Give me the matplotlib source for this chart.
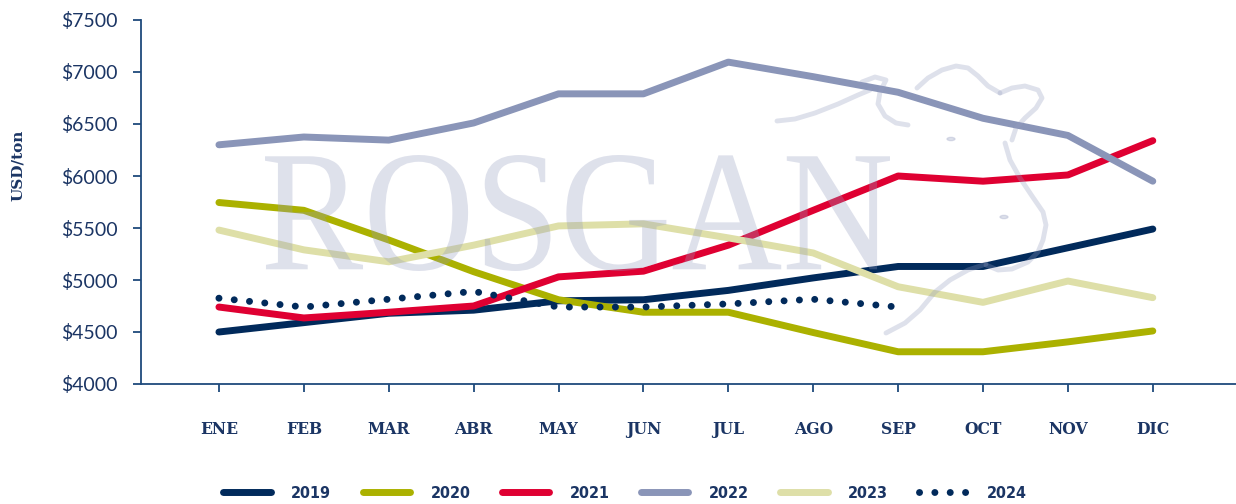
import numpy as np
import matplotlib
matplotlib.use('Agg')
import matplotlib.pyplot as plt
from matplotlib.path import Path
from matplotlib.patches import PathPatch
from matplotlib.textpath import TextPath
from matplotlib.font_manager import FontProperties
from matplotlib.transforms import Affine2D

# data
months = ['ENE', 'FEB', 'MAR', 'ABR', 'MAY', 'JUN', 'JUL', 'AGO', 'SEP', 'OCT', 'NOV', 'DIC']
y2019 = [4500, 4590, 4680, 4710, 4800, 4810, 4900, 5020, 5130, 5130, 5310, 5490]
y2020 = [5745, 5670, 5385, 5080, 4810, 4690, 4690, 4495, 4310, 4310, 4405, 4510]
y2021 = [4740, 4635, 4690, 4750, 5030, 5085, 5335, 5670, 6000, 5950, 6010, 6340]
y2022 = [6300, 6375, 6345, 6510, 6790, 6790, 7095, 6955, 6805, 6555, 6390, 5950]
y2023 = [5480, 5290, 5175, 5335, 5520, 5540, 5405, 5260, 4935, 4785, 4990, 4830]
y2024 = [4825, 4740, 4815, 4890, 4740, 4740, 4770, 4815, 4740]
yticks = [4000, 4500, 5000, 5500, 6000, 6500, 7000, 7500]

navy = '#012a5b'
text_col = '#1b3564'
wm = (0.58, 0.61, 0.75)

W, H = 1236, 504
fig = plt.figure(figsize=(W / 100, H / 100), dpi=100)
ax = fig.add_axes([141 / W, 1 - 384 / H, 1 - 141 / W, (384 - 20) / H])

x = np.arange(len(months))
lw = 5
ax.plot(x, y2019, color=navy, lw=lw, solid_capstyle='round', solid_joinstyle='round', label='2019')
ax.plot(x, y2020, color='#abb100', lw=lw, solid_capstyle='round', solid_joinstyle='round', label='2020')
ax.plot(x, y2021, color='#df0032', lw=lw, solid_capstyle='round', solid_joinstyle='round', label='2021')
ax.plot(x, y2022, color='#8a95b8', lw=lw, solid_capstyle='round', solid_joinstyle='round', label='2022')
ax.plot(x, y2023, color='#dedfa8', lw=lw, solid_capstyle='round', solid_joinstyle='round', label='2023')
ax.plot(x[:len(y2024)], y2024, color=navy, lw=5, linestyle=(0, (0.01, 2.2)),
        dash_capstyle='round', label='2024')

ax.set_xlim(-0.918, 11.98)
ax.set_ylim(4000, 7500)
ax.set_yticks(yticks)
ax.set_yticklabels(['$' + str(v) for v in yticks])
ax.set_xticks(x)
ax.set_xticklabels(months)

for s in ['top', 'right']:
    ax.spines[s].set_visible(False)
for s in ['left', 'bottom']:
    ax.spines[s].set_color('#1f4a7c')
    ax.spines[s].set_linewidth(1.3)

ax.tick_params(axis='y', length=6, width=1.3, color='#1f4a7c', pad=11,
               labelcolor=text_col, labelsize=14)
ax.tick_params(axis='x', length=6, width=1.3, color='#1f4a7c', pad=21,
               labelcolor=text_col, labelsize=12.5)
for t in ax.get_yticklabels():
    t.set_family('Lato')
for t in ax.get_xticklabels():
    t.set_family('DejaVu Serif')
    t.set_weight('bold')
    t.set_stretch('condensed')

fig.text(18 / W, 1 - 165 / H, 'USD/ton', rotation=90, ha='center', va='center',
         fontsize=11, fontweight='bold', family='DejaVu Serif', color=text_col)

# watermark text
tp = TextPath((0, 0), 'ROSGAN', size=100, prop=FontProperties(family='Liberation Serif'))
ext = tp.get_extents()
x0, x1 = 265 / W, 890 / W
y0, y1 = 1 - 271 / H, 1 - 155 / H
tr = Affine2D().translate(-ext.x0, -ext.y0).scale((x1 - x0) / ext.width, (y1 - y0) / ext.height) \
    .translate(x0, y0) + fig.transFigure
fig.patches.append(PathPatch(tp, transform=tr, facecolor=wm, edgecolor='none', alpha=0.3, zorder=10))

# watermark cow outline (pixel coords)
cow = [
    [(777, 121), (795, 119), (815, 113), (838, 104), (858, 95), (870, 90)],
    [(862, 82), (875, 77), (886, 80), (880, 92), (878, 104), (885, 116), (896, 123), (908, 125)],
    [(917, 88), (928, 78), (942, 70), (956, 66), (968, 68), (978, 76), (988, 86), (1000, 93)],
    [(1000, 93), (1012, 88), (1025, 86), (1038, 90), (1042, 98), (1036, 108), (1025, 118),
     (1016, 128), (1012, 140)],
    [(1005, 143), (1010, 160), (1020, 178), (1032, 196), (1043, 212), (1046, 225), (1043, 240),
     (1038, 252), (1028, 262), (1012, 269), (998, 270), (986, 265)],
    [(986, 264), (968, 270), (950, 280), (935, 292), (920, 310), (905, 323), (886, 333)],
]
for c in cow:
    pts = [(px / W, 1 - py / H) for px, py in c]
    codes = [Path.MOVETO] + [Path.LINETO] * (len(pts) - 1)
    fig.patches.append(PathPatch(Path(pts, codes), transform=fig.transFigure, facecolor='none',
                                 edgecolor=wm, lw=3.5, alpha=0.3, capstyle='round',
                                 joinstyle='round', zorder=10))
for cx, cy in [(951, 139), (1004, 217)]:
    fig.patches.append(plt.Circle((cx / W, 1 - cy / H), 4 / W, transform=fig.transFigure,
                                  color=wm, alpha=0.3, zorder=10))

leg = fig.legend(loc='center', bbox_to_anchor=(625 / W, 1 - 493 / H), ncol=6, frameon=False,
                 handlelength=3.0, handletextpad=1.25, columnspacing=1.95,
                 prop={'family': 'DejaVu Sans', 'weight': 'bold', 'stretch': 'condensed', 'size': 11.5})
for t in leg.get_texts():
    t.set_color(text_col)

fig.savefig('out.png', dpi=100)
